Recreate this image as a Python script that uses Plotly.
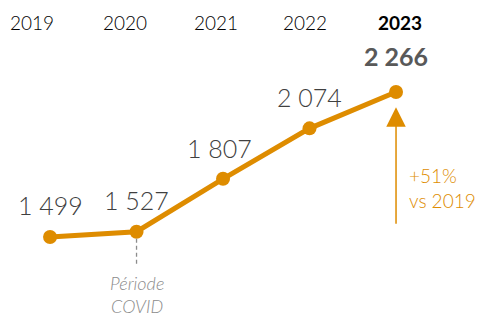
import plotly.graph_objects as go

years = [2019, 2020, 2021, 2022, 2023]
values = [1499, 1527, 1807, 2074, 2266]
value_labels = ["1 499", "1 527", "1 807", "2 074", "2 266"]
year_labels = ["2019", "2020", "2021", "2022", "2023"]

ORANGE = "#DE8C00"
FONT = "Lato"

fig = go.Figure()
fig.add_trace(go.Scatter(
    x=years, y=values, mode="lines+markers",
    line=dict(color=ORANGE, width=5),
    marker=dict(color=ORANGE, size=14),
    hoverinfo="skip", showlegend=False, cliponaxis=False,
))

# COVID dashed line
fig.add_trace(go.Scatter(
    x=[2020, 2020], y=[1490, 1350], mode="lines",
    line=dict(color="#8C8C8C", width=1.3, dash="4px,3px"),
    hoverinfo="skip", showlegend=False,
))

year_shift = [-18, -12, -7, -5, 4]
for i, (yr, lab) in enumerate(zip(years, year_labels)):
    last = i == len(years) - 1
    fig.add_annotation(
        x=yr, y=1, yref="paper", yanchor="middle", xshift=year_shift[i], yshift=-14,
        text=f"<b>{lab}</b>" if last else lab, showarrow=False,
        font=dict(family=FONT, size=19, color="#000000", weight=700 if last else 300),
    )

val_shift = [0, 0, -4, 0, 0]
val_y = [32, 32, 31, 31, 36]
for i, (yr, v, lab) in enumerate(zip(years, values, value_labels)):
    last = i == len(years) - 1
    fig.add_annotation(
        x=yr, y=v, xshift=val_shift[i], yshift=val_y[i], yanchor="middle",
        text=f"<b>{lab}</b>" if last else lab, showarrow=False,
        font=dict(family=FONT, size=25,
                  color="#404040" if not last else "#595959",
                  weight=700 if last else 300),
    )

# Growth arrow
fig.add_annotation(
    x=2023, y=2185, ax=2023, ay=1562, axref="x", ayref="y",
    text="", showarrow=True, arrowhead=2, arrowsize=2.6, arrowwidth=1.5,
    arrowcolor=ORANGE,
)
fig.add_annotation(
    x=2023, y=1758, xshift=11, xanchor="left", yanchor="middle",
    text="+51%<br>vs 2019", showarrow=False, align="left",
    font=dict(family=FONT, size=19, color=ORANGE, weight=300),
)

fig.add_annotation(
    x=2020, y=1197, yanchor="middle",
    text="<i>Période<br>COVID</i>", showarrow=False,
    font=dict(family=FONT, size=18, color="#8C8C8C", weight=300),
)

fig.update_layout(
    width=483, height=316,
    margin=dict(l=0, r=0, t=0, b=0),
    paper_bgcolor="white", plot_bgcolor="white",
    xaxis=dict(range=[2018.514, 2024.098], visible=False, fixedrange=True),
    yaxis=dict(range=[1039, 2710.6], visible=False, fixedrange=True),
)

fig.write_html("out.html")
